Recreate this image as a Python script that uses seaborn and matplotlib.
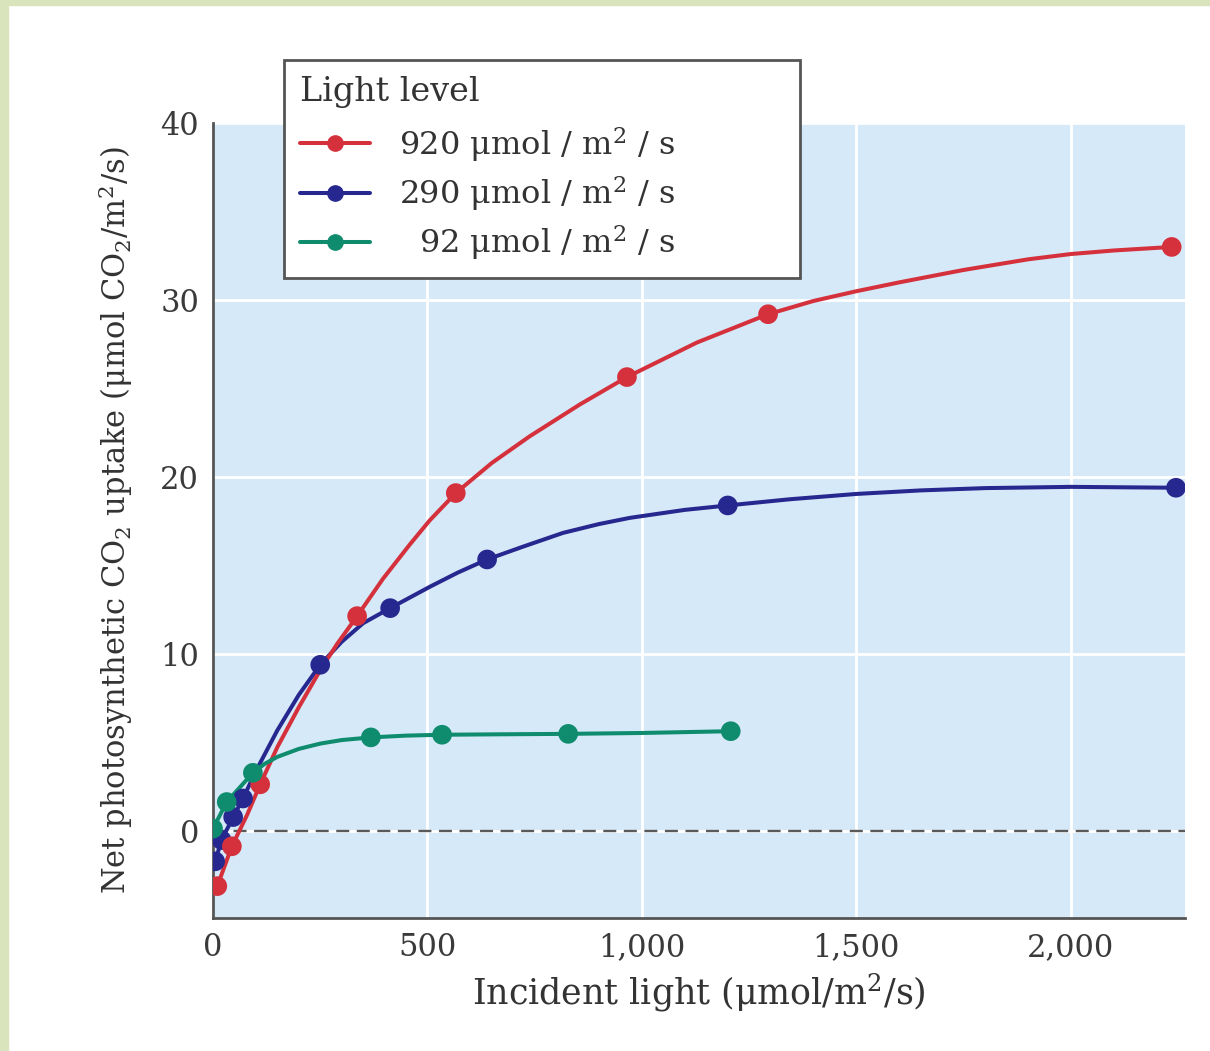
import numpy as np
import pandas as pd
import matplotlib
matplotlib.use("Agg")
import matplotlib.pyplot as plt
from matplotlib.lines import Line2D
from matplotlib.patches import Rectangle
import seaborn as sns

# ---------------- data ----------------
series_labels = ["920 μmol / m$^2$ / s", "290 μmol / m$^2$ / s", "  92 μmol / m$^2$ / s"]
series_colors = ["#d5313d", "#26288f", "#0f8c6e"]

# measured points
red_x = [10, 44, 110, 336, 566, 965, 1294, 2235]
red_y = [-3.1, -0.85, 2.65, 12.15, 19.1, 25.65, 29.2, 33.0]
blue_x = [5, 20, 47, 70, 250, 413, 639, 1200, 2245]
blue_y = [-1.7, -0.5, 0.8, 1.85, 9.4, 12.6, 15.35, 18.4, 19.4]
green_x = [0, 32, 93, 368, 534, 828, 1207]
green_y = [0.15, 1.65, 3.3, 5.3, 5.45, 5.5, 5.65]

# fitted curves
red_cx = [10, 44, 80, 110, 150, 200, 250, 290, 336, 396, 459, 505, 566, 650, 738, 855, 965,
          1128, 1294, 1400, 1500, 1600, 1750, 1900, 2000, 2100, 2235]
red_cy = [-3.1, -0.85, 0.95, 2.65, 4.75, 7.0, 9.1, 10.6, 12.15, 14.25, 16.2, 17.55, 19.1, 20.8,
          22.3, 24.1, 25.65, 27.6, 29.2, 29.95, 30.5, 31.0, 31.7, 32.3, 32.6, 32.8, 33.0]
blue_cx = [5, 20, 47, 70, 100, 150, 200, 250, 300, 350, 413, 505, 570, 639, 720, 816, 900, 972,
           1100, 1200, 1345, 1500, 1650, 1800, 2000, 2245]
blue_cy = [-1.7, -0.5, 0.8, 1.85, 3.4, 5.7, 7.7, 9.4, 10.7, 11.75, 12.6, 13.8, 14.6, 15.35, 16.05,
           16.85, 17.35, 17.7, 18.15, 18.4, 18.75, 19.05, 19.25, 19.38, 19.45, 19.4]
green_cx = [0, 32, 93, 120, 150, 200, 250, 300, 368, 450, 534, 700, 828, 1000, 1207]
green_cy = [0.15, 1.65, 3.3, 3.8, 4.2, 4.65, 4.95, 5.15, 5.3, 5.4, 5.45, 5.48, 5.5, 5.55, 5.65]

x_ticks = [0, 500, 1000, 1500, 2000]
x_ticklabels = ["0", "500", "1,000", "1,500", "2,000"]
y_ticks = [0, 10, 20, 30, 40]

# ---------------- style ----------------
sns.set_theme(style="white")
plt.rcParams["font.family"] = ["DejaVu Serif"]
plt.rcParams["mathtext.fontset"] = "dejavuserif"

W, H = 1210, 1051
fig = plt.figure(figsize=(W / 100, H / 100), dpi=100)
fig.patch.set_facecolor("white")
# light green frame along top and left edges
fig.patches.append(Rectangle((0, 0), 8 / W, 1, transform=fig.transFigure, color="#d9e4bd", zorder=0))
fig.patches.append(Rectangle((0, 1 - 5 / H), 1, 5 / H, transform=fig.transFigure, color="#d9e4bd", zorder=0))

ax = fig.add_axes([213 / W, 1 - 918 / H, (1185 - 213) / W, (918 - 123) / H])
ax.set_facecolor("#d6e9f8")

curves = pd.concat([
    pd.DataFrame({"x": blue_cx, "y": blue_cy, "s": series_labels[1]}),
    pd.DataFrame({"x": red_cx, "y": red_cy, "s": series_labels[0]}),
    pd.DataFrame({"x": green_cx, "y": green_cy, "s": series_labels[2]}),
])
points = pd.concat([
    pd.DataFrame({"x": blue_x, "y": blue_y, "s": series_labels[1]}),
    pd.DataFrame({"x": red_x, "y": red_y, "s": series_labels[0]}),
    pd.DataFrame({"x": green_x, "y": green_y, "s": series_labels[2]}),
])
palette = dict(zip(series_labels, series_colors))

ax.axhline(0, color="#5a5a5a", lw=1.7, dashes=(5.5, 3.2), zorder=1)

sns.lineplot(data=curves, x="x", y="y", hue="s", palette=palette, lw=2.9,
             sort=False, estimator=None, legend=False, ax=ax, zorder=3)
sns.scatterplot(data=points, x="x", y="y", hue="s", palette=palette, s=200,
                linewidth=0, legend=False, ax=ax, zorder=4)

ax.set_xlim(0, 2266)
ax.set_ylim(-4.9, 40)
ax.set_xticks(x_ticks)
ax.set_xticklabels(x_ticklabels)
ax.set_yticks(y_ticks)
ax.grid(True, color="white", lw=2)
ax.set_axisbelow(True)

for side in ["top", "right"]:
    ax.spines[side].set_visible(False)
for side in ["left", "bottom"]:
    ax.spines[side].set_color("#555555")
    ax.spines[side].set_linewidth(2)
ax.tick_params(axis="both", direction="in", length=13, width=1.6, color="#555555",
               labelsize=22, labelcolor="#3a3a3a", pad=10)

ax.set_xlabel("Incident light (μmol/m$^2$/s)", fontsize=25, color="#333333", labelpad=6)
ax.set_ylabel("Net photosynthetic CO$_2$ uptake (μmol CO$_2$/m$^2$/s)", fontsize=22,
              color="#333333", labelpad=18)

handles = [Line2D([0], [0], color=c, lw=2.9, marker="o", markersize=11) for c in series_colors]
leg = fig.legend(handles, series_labels, title="Light level", loc="upper left",
                 bbox_to_anchor=(284 / W, 1 - 276 / H, 516 / W, 216 / H),
                 bbox_transform=fig.transFigure, mode="expand",
                 fontsize=23, title_fontsize=24, frameon=True, fancybox=False,
                 handlelength=2.2, borderpad=0.5, labelspacing=0.32, handletextpad=0.9,
                 borderaxespad=0)
leg._legend_box.align = "left"
leg._legend_box.sep = 12
leg.get_frame().set_edgecolor("#555555")
leg.get_frame().set_linewidth(2)
leg.get_frame().set_facecolor("white")
leg.get_frame().set_alpha(1)
for t in leg.get_texts():
    t.set_color("#333333")
leg.get_title().set_color("#333333")

fig.savefig("out.png", dpi=100)
